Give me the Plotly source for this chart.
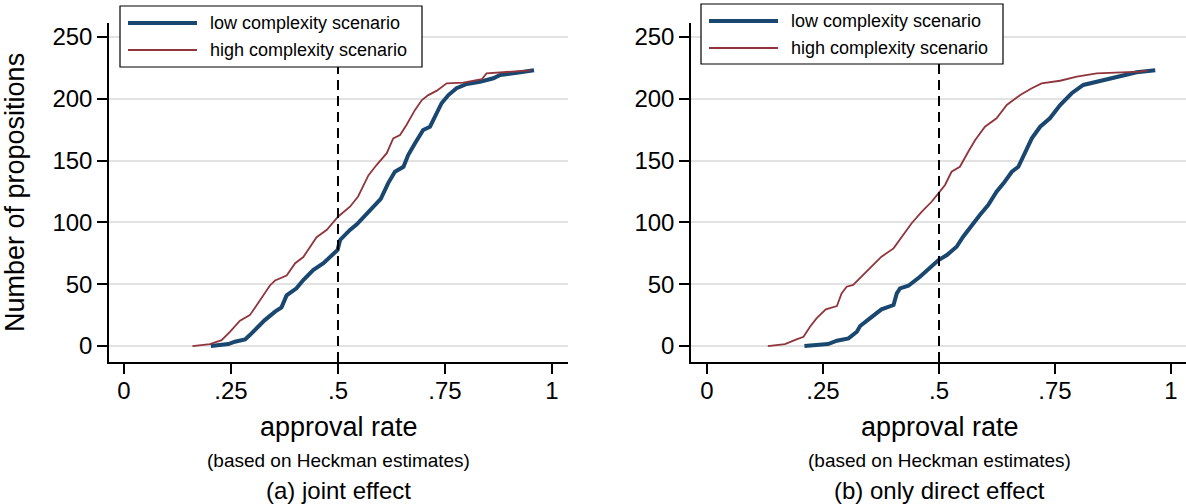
import plotly.graph_objects as go

# ---- data ----
a_low_x = [0.203, 0.244, 0.259, 0.283, 0.294, 0.314, 0.329, 0.353, 0.368, 0.380, 0.403, 0.419, 0.442, 0.466,
           0.485, 0.499, 0.505, 0.512, 0.528, 0.544, 0.559, 0.579, 0.600, 0.617, 0.633, 0.653, 0.664, 0.680,
           0.699, 0.715, 0.731, 0.742, 0.758, 0.777, 0.801, 0.832, 0.863, 0.879, 0.918, 0.958]
a_low_y = [0, 1.6, 3.5, 5.4, 8.9, 16, 21, 27.8, 31.3, 41, 46.7, 53.4, 61.5, 67,
           73.6, 77.7, 85.8, 88.4, 93.9, 98.5, 104, 110.5, 119, 131.6, 141, 145, 154.5, 164,
           174.8, 177.4, 188.3, 196.4, 203, 208.5, 212, 213.8, 216.6, 219.3, 221, 223]

a_high_x = [0.160, 0.201, 0.228, 0.248, 0.271, 0.294, 0.310, 0.326, 0.341, 0.353, 0.380, 0.400, 0.419, 0.450,
            0.474, 0.500, 0.528, 0.547, 0.571, 0.590, 0.614, 0.629, 0.645, 0.660, 0.680, 0.696, 0.711, 0.731,
            0.754, 0.793, 0.816, 0.836, 0.847, 0.879, 0.918, 0.950]
a_high_y = [0, 1.6, 4.8, 11.6, 20.5, 25, 33, 41, 49, 53, 57, 67, 72, 88,
            94, 104.6, 112.7, 121, 138, 146.4, 156, 168, 170.7, 178.8, 191, 199, 203, 206.6,
            212.5, 213, 214.4, 215.8, 220.6, 221.4, 222, 223]

b_low_x = [0.210, 0.261, 0.280, 0.305, 0.323, 0.330, 0.351, 0.376, 0.402, 0.409, 0.416, 0.434, 0.459, 0.481,
           0.499, 0.517, 0.538, 0.552, 0.570, 0.588, 0.606, 0.624, 0.639, 0.657, 0.671, 0.685, 0.700, 0.718,
           0.739, 0.761, 0.786, 0.811, 0.854, 0.883, 0.926, 0.966]
b_low_y = [0, 1.6, 4.3, 6.2, 11.6, 16.2, 22.4, 29.7, 33.2, 42.6, 46.7, 48.8, 56, 62.9,
           69.6, 73.6, 80.3, 88.4, 97.9, 106, 114, 124.8, 131.6, 141, 145, 156, 168, 177.4,
           184.2, 195, 204.5, 211.2, 215.2, 217.9, 221.4, 223]

b_high_x = [0.131, 0.168, 0.193, 0.208, 0.222, 0.236, 0.256, 0.280, 0.290, 0.301, 0.315, 0.337, 0.358, 0.376,
            0.402, 0.416, 0.441, 0.463, 0.484, 0.4986, 0.513, 0.527, 0.545, 0.563, 0.578, 0.599, 0.624, 0.646,
            0.675, 0.700, 0.721, 0.761, 0.797, 0.840, 0.883, 0.933, 0.950]
b_high_y = [0, 1.6, 5.4, 7.5, 15.6, 22.4, 29.7, 32.4, 42.6, 48, 49.4, 57.4, 65.5, 72.3,
            79, 86.3, 99.3, 108.7, 116.7, 123.5, 130.3, 141, 145, 157.2, 166.7, 177.4, 184.2, 195,
            203, 208.5, 212.5, 214.6, 217.9, 220.6, 221.4, 222, 223]

x_tickvals = [0, 0.25, 0.5, 0.75, 1]
x_ticktext = ["0", ".25", ".5", ".75", "1"]
y_tickvals = [0, 50, 100, 150, 200, 250]
y_ticktext = ["0", "50", "100", "150", "200", "250"]
series_names = ["low complexity scenario", "high complexity scenario"]
panel_titles = ["(a) joint effect", "(b) only direct effect"]
x_title = "approval rate"
x_subtitle = "(based on Heckman estimates)"
y_title = "Number of propositions"
threshold = 0.5

# ---- styling ----
W, H = 1186, 504
FONT = "Liberation Sans, Arial, sans-serif"
BLUE = "#1a476f"
RED = "#90353b"
GRID = "#e2e2e2"

def px(v):
    return v / W

def py(v):
    return 1 - v / H

fig = go.Figure()
fig.add_trace(go.Scatter(x=a_low_x, y=a_low_y, mode="lines", name=series_names[0],
                         line=dict(color=BLUE, width=4), xaxis="x", yaxis="y"))
fig.add_trace(go.Scatter(x=a_high_x, y=a_high_y, mode="lines", name=series_names[1],
                         line=dict(color=RED, width=1.8), xaxis="x", yaxis="y"))
fig.add_trace(go.Scatter(x=b_low_x, y=b_low_y, mode="lines", name=series_names[0],
                         line=dict(color=BLUE, width=4), xaxis="x2", yaxis="y2"))
fig.add_trace(go.Scatter(x=b_high_x, y=b_high_y, mode="lines", name=series_names[1],
                         line=dict(color=RED, width=1.8), xaxis="x2", yaxis="y2"))

xcommon = dict(tickvals=x_tickvals, ticktext=x_ticktext, showgrid=False, zeroline=False,
               showline=True, linecolor="black", linewidth=1.5, ticks="outside", ticklen=10,
               tickwidth=1.5, tickcolor="black", tickfont=dict(family=FONT, size=24, color="black"),
               ticklabelstandoff=-4)
ycommon = dict(range=[-12.9, 261.3], tickvals=y_tickvals, ticktext=y_ticktext, showgrid=True,
               gridcolor=GRID, gridwidth=2, zeroline=False, showline=True, linecolor="black",
               linewidth=1.5, ticks="outside", ticklen=10, tickwidth=1.5, tickcolor="black",
               tickfont=dict(family=FONT, size=24, color="black"), ticklabelstandoff=0)

fig.update_layout(
    width=W, height=H, margin=dict(l=0, r=0, t=0, b=0),
    paper_bgcolor="white", plot_bgcolor="white", showlegend=False,
    font=dict(family=FONT, color="black"),
    xaxis=dict(domain=[px(109), px(568)], range=[-0.035, 1.0374], anchor="y", **xcommon),
    yaxis=dict(domain=[py(362), py(23)], anchor="x", **ycommon),
    xaxis2=dict(domain=[px(691), 1.0], range=[-0.0345, 1.0323], anchor="y2", **xcommon),
    yaxis2=dict(domain=[py(362), py(23)], anchor="x2", **ycommon),
)

shapes = []
annotations = []
panels = [
    dict(xa="x", ya="y", cx=(109 + 568) / 2, box=(120, 422, 6, 67), rows=(23, 50),
         line=(128, 197), text_x=208),
    dict(xa="x2", ya="y2", cx=(691 + 1188) / 2, box=(701, 1003, 4, 64), rows=(21, 48),
         line=(709, 778), text_x=789),
]
for i, p in enumerate(panels):
    # threshold line
    shapes.append(dict(type="line", xref=p["xa"], yref=p["ya"] + " domain", x0=threshold, x1=threshold,
                       y0=0, y1=1, line=dict(color="black", width=2, dash="10px,6px"), layer="above"))
    # legend box
    bx0, bx1, by0, by1 = p["box"]
    shapes.append(dict(type="rect", xref="paper", yref="paper", x0=px(bx0), x1=px(bx1),
                       y0=py(by1), y1=py(by0), fillcolor="white",
                       line=dict(color="black", width=1.2), layer="above"))
    for name, color, width, row in zip(series_names, [BLUE, RED], [4, 1.8], p["rows"]):
        shapes.append(dict(type="line", xref="paper", yref="paper", x0=px(p["line"][0]),
                           x1=px(p["line"][1]), y0=py(row), y1=py(row),
                           line=dict(color=color, width=width), layer="above"))
        annotations.append(dict(text=name, xref="paper", yref="paper", x=px(p["text_x"]), y=py(row),
                                xanchor="left", yanchor="middle", showarrow=False,
                                font=dict(family=FONT, size=18, color="black")))
    annotations.append(dict(text=x_title, xref="paper", yref="paper", x=px(p["cx"]), y=py(427),
                            xanchor="center", yanchor="middle", showarrow=False,
                            font=dict(family=FONT, size=27, color="black")))
    annotations.append(dict(text=x_subtitle, xref="paper", yref="paper", x=px(p["cx"]), y=py(460),
                            xanchor="center", yanchor="middle", showarrow=False,
                            font=dict(family=FONT, size=19, color="black")))
    annotations.append(dict(text=panel_titles[i], xref="paper", yref="paper", x=px(p["cx"]), y=py(490),
                            xanchor="center", yanchor="middle", showarrow=False,
                            font=dict(family=FONT, size=24, color="black")))

annotations.append(dict(text=y_title, xref="paper", yref="paper", x=px(15), y=py(193),
                        xanchor="center", yanchor="middle", textangle=-90, showarrow=False,
                        font=dict(family=FONT, size=27, color="black")))

fig.update_layout(shapes=shapes, annotations=annotations)
fig.write_html("out.html")
